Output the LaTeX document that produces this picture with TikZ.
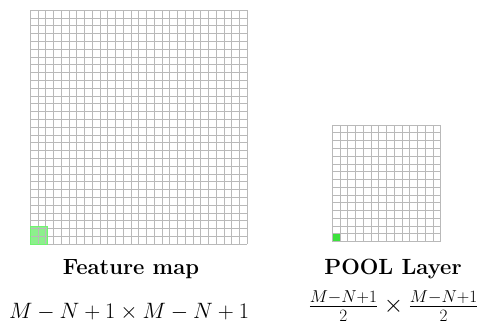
\documentclass[tikz,border=0pt]{standalone}
\usepackage{amsmath}
\usepackage{graphicx}
\usepackage{fontspec}
\definecolor{gridc}{RGB}{185,185,185}
\definecolor{biggreen}{RGB}{140,240,140}
\definecolor{smallgreen}{RGB}{60,225,60}
\tikzset{
  gridline/.style={draw=gridc, line width=0.5pt},
  titletxt/.style={font=\fontsize{22}{26}\selectfont\bfseries, inner sep=0pt, anchor=base},
  eqtxt/.style={font=\fontsize{20.74}{25}\selectfont, inner sep=0pt, anchor=base},
  fractxt/.style={font=\fontsize{25}{30}\selectfont, inner sep=0pt, anchor=center},
}
\begin{document}
\begin{tikzpicture}[x=1pt,y=1pt]
\useasboundingbox (0,0) rectangle (479,323);
% large grid 28 x 30
\fill[biggreen] (30,79) rectangle (47,97);
\draw[gridline, xstep=7.75, ystep=7.8, shift={(30,79)}] (0,0) grid (217,234);
\draw[draw=biggreen!80!green, line width=0.6pt] (30,79) rectangle (47,97);
% small grid 14 x 15
\fill[smallgreen] (332,81.5) rectangle (339.75,89.27);
\draw[gridline, xstep=7.75, ystep=7.77, shift={(332,81.5)}] (0,0) grid (108.5,116.55);
% labels
\node[titletxt] (fm) at (131,48.5) {Feature map};
\node[titletxt] (pl) at (393,48.5) {POOL Layer};
\node[eqtxt] (fmeq) at (129,4.5) {\scalebox{1.072}{$M-N+1\times M-N+1$}};
\node[fractxt] (pleq) at (393.5,17) {$\frac{M-N+1}{2}\times\frac{M-N+1}{2}$};
\end{tikzpicture}
\end{document}
